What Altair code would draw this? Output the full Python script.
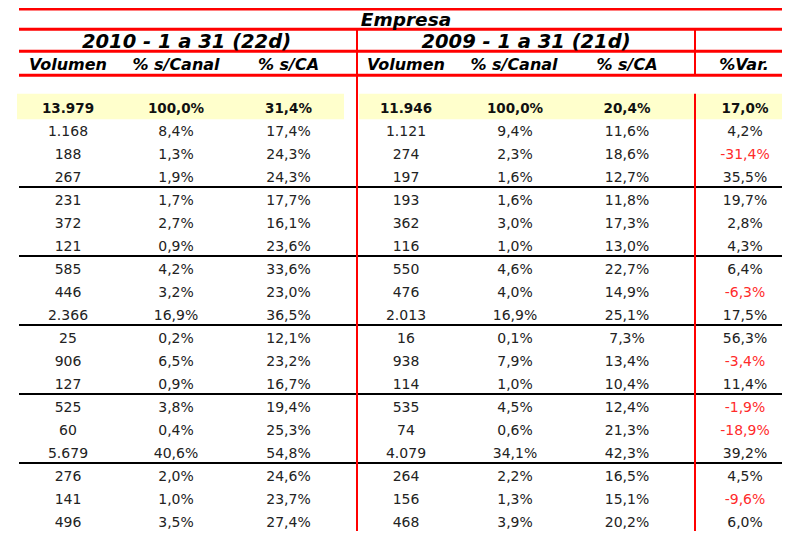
import altair as alt
import pandas as pd

# ---------------- data ----------------
vol_2010 = [13979, 1168, 188, 267, 231, 372, 121, 585, 446, 2366, 25, 906, 127, 525, 60, 5679, 276, 141, 496]
canal_2010 = [100.0, 8.4, 1.3, 1.9, 1.7, 2.7, 0.9, 4.2, 3.2, 16.9, 0.2, 6.5, 0.9, 3.8, 0.4, 40.6, 2.0, 1.0, 3.5]
ca_2010 = [31.4, 17.4, 24.3, 24.3, 17.7, 16.1, 23.6, 33.6, 23.0, 36.5, 12.1, 23.2, 16.7, 19.4, 25.3, 54.8, 24.6, 23.7, 27.4]
vol_2009 = [11946, 1121, 274, 197, 193, 362, 116, 550, 476, 2013, 16, 938, 114, 535, 74, 4079, 264, 156, 468]
canal_2009 = [100.0, 9.4, 2.3, 1.6, 1.6, 3.0, 1.0, 4.6, 4.0, 16.9, 0.1, 7.9, 1.0, 4.5, 0.6, 34.1, 2.2, 1.3, 3.9]
ca_2009 = [20.4, 11.6, 18.6, 12.7, 11.8, 17.3, 13.0, 22.7, 14.9, 25.1, 7.3, 13.4, 10.4, 12.4, 21.3, 42.3, 16.5, 15.1, 20.2]
var_pct = [17.0, 4.2, -31.4, 35.5, 19.7, 2.8, 4.3, 6.4, -6.3, 17.5, 56.3, -3.4, 11.4, -1.9, -18.9, 39.2, 4.5, -9.6, 6.0]

title_top = "Empresa"
period_labels = ["2010 - 1 a 31 (22d)", "2009 - 1 a 31 (21d)"]
col_labels = ["Volumen", "% s/Canal", "% s/CA", "Volumen", "% s/Canal", "% s/CA", "%Var."]
group_after = [3, 6, 9, 12, 15]   # a black rule follows these rows

# ---------------- layout (pixel space of the reference) ----------------
ROW0, PITCH, TXT_DY = 108.0, 23.36, 2.5
col_x = [68, 176, 288.5, 406, 515, 627, 745]
hdr_x = [68, 176, 288.5, 406, 514, 627, 744]
period_x = [186.5, 526]
LEFT, RIGHT = 19, 782
VSPLIT1, VSPLIT2 = 357, 695
TOP, BOTTOM = 8, 539

def fmt_int(v):
    return f"{v:,}".replace(",", ".")

def fmt_pct(v):
    return f"{v:.1f}".replace(".", ",") + "%"

def row_y(i):
    return ROW0 + PITCH * i

cols = [
    [fmt_int(v) for v in vol_2010],
    [fmt_pct(v) for v in canal_2010],
    [fmt_pct(v) for v in ca_2010],
    [fmt_int(v) for v in vol_2009],
    [fmt_pct(v) for v in canal_2009],
    [fmt_pct(v) for v in ca_2009],
    [fmt_pct(v) for v in var_pct],
]
cells = []
for c, values in enumerate(cols):
    for i, lab in enumerate(values):
        neg = (c == 6 and var_pct[i] < 0)
        cells.append({
            "label": lab, "x": col_x[c], "y": row_y(i) + TXT_DY,
            "bold": i == 0,
            "color": "#ff2b2b" if neg else "#222222",
        })
cells = pd.DataFrame(cells)
bold_cells = cells[cells["bold"]]
reg_cells = cells[~cells["bold"]]

headers = pd.DataFrame(
    [{"label": title_top, "x": 406, "y": 20.5, "size": 18.5}]
    + [{"label": t, "x": x, "y": 43, "size": 19.5} for t, x in zip(period_labels, period_x)]
    + [{"label": t, "x": x, "y": 66, "size": 16} for t, x in zip(col_labels, hdr_x)]
)

yellow = pd.DataFrame([
    {"x": 17, "x2": 344, "y": 95, "y2": 121},
    {"x": 359, "x2": RIGHT, "y": 95, "y2": 121},
])

red_h = pd.DataFrame([{"y": y, "x": LEFT, "x2": RIGHT} for y in [9, 29.5, 52, 76.3]])
black_h = pd.DataFrame([{"y": row_y(i + 0.5), "x": LEFT, "x2": RIGHT} for i in group_after])
red_v = pd.DataFrame([
    {"x": VSPLIT1, "y": 29.5, "y2": BOTTOM},
    {"x": VSPLIT2, "y": 29.5, "y2": 76.3},
    {"x": VSPLIT2, "y": 95, "y2": BOTTOM},
])

XS = alt.Scale(domain=[8, 782], nice=False, zero=False)
YS = alt.Scale(domain=[TOP, BOTTOM], nice=False, zero=False, reverse=True)

def X(f="x"):
    return alt.X(f"{f}:Q", scale=XS, axis=None)

def Y(f="y"):
    return alt.Y(f"{f}:Q", scale=YS, axis=None)

rects = alt.Chart(yellow).mark_rect(color="#ffffcc").encode(
    x=X(), x2="x2:Q", y=Y(), y2="y2:Q")

blk = alt.Chart(black_h).mark_rule(color="#000000", strokeWidth=2).encode(
    x=X(), x2="x2:Q", y=Y())

rh = alt.Chart(red_h).mark_rule(color="#ff0000", strokeWidth=3).encode(
    x=X(), x2="x2:Q", y=Y())

rv = alt.Chart(red_v).mark_rule(color="#ff0000", strokeWidth=2).encode(
    x=X(), y=Y(), y2="y2:Q")

hdr = alt.Chart(headers).mark_text(
    font="DejaVu Sans", fontWeight="bold", fontStyle="italic",
    align="center", baseline="middle", color="#000000"
).encode(x=X(), y=Y(), text="label:N", size=alt.Size("size:Q", scale=None))

bold_txt = alt.Chart(bold_cells).mark_text(
    font="DejaVu Sans", fontWeight="bold", fontSize=13.5,
    align="center", baseline="middle", color="#111111"
).encode(x=X(), y=Y(), text="label:N")

reg_txt = alt.Chart(reg_cells).mark_text(
    font="DejaVu Sans", fontSize=14, align="center", baseline="middle"
).encode(x=X(), y=Y(), text="label:N", color=alt.Color("color:N", scale=None))

chart = alt.layer(rects, blk, rh, rv, hdr, bold_txt, reg_txt).properties(
    width=774, height=523, padding=0,
    autosize=alt.AutoSizeParams(type="none"),
    background="#ffffff",
).configure_view(stroke=None)

chart.save("out.html", embed_options={"renderer": "svg", "actions": False})
